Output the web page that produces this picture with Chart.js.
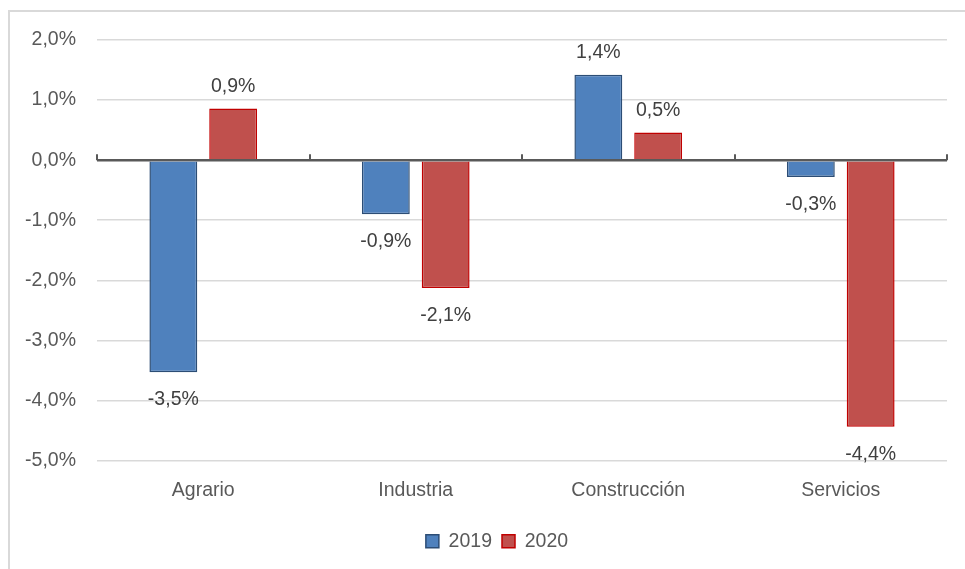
<!DOCTYPE html>
<html>
<head>
<meta charset="utf-8">
<script src="https://cdn.jsdelivr.net/npm/chart.js@4/dist/chart.umd.min.js"></script>
<style>
  html, body { margin: 0; padding: 0; background: #fff; }
  #wrap { position: relative; width: 965px; height: 569px; overflow: hidden; }
  #frame { position: absolute; left: 8px; top: 10px; width: 1000px; height: 700px; border: 2px solid #d9d9d9; box-sizing: border-box; }
  #chart { position: absolute; left: 0; top: 0; }
</style>
</head>
<body>
<div id="wrap">
  <div id="frame"></div>
  <canvas id="chart" width="965" height="569"></canvas>
</div>
<script>
const categories = ["Agrario", "Industria", "Construcción", "Servicios"];
const values2019 = [-3.53, -0.9, 1.42, -0.28];
const values2020 = [0.86, -2.13, 0.46, -4.44];
const seriesNames = ["2019", "2020"];

const FONT = "'Liberation Sans', Arial, sans-serif";

function pct(v) {
    return v.toFixed(1).replace(".", ",") + "%";
}

// data labels above / below each bar
const barLabels = {
    id: "barLabels",
    afterDatasetsDraw(chart) {
        const ctx = chart.ctx;
        ctx.save();
        ctx.font = "19.5px " + FONT;
        ctx.fillStyle = "#404040";
        ctx.textAlign = "center";
        chart.data.datasets.forEach((ds, i) => {
            chart.getDatasetMeta(i).data.forEach((bar, j) => {
                const v = ds.data[j];
                if (v >= 0) {
                    ctx.textBaseline = "bottom";
                    ctx.fillText(pct(v), bar.x, bar.y - 12);
                } else {
                    ctx.textBaseline = "top";
                    ctx.fillText(pct(v), bar.x, bar.y + 18);
                }
            });
        });
        ctx.restore();
    }
};

// zero line tick marks between categories
const zeroTicks = {
    id: "zeroTicks",
    afterDatasetsDraw(chart) {
        const ctx = chart.ctx;
        const x = chart.scales.x;
        const y0 = chart.scales.y.getPixelForValue(0);
        const step = (x.right - x.left) / categories.length;
        ctx.save();
        ctx.strokeStyle = "#595959";
        ctx.lineWidth = 2;
        ctx.beginPath();
        for (let i = 0; i <= categories.length; i++) {
            const px = Math.round(x.left + i * step);
            ctx.moveTo(px, y0 - 6);
            ctx.lineTo(px, y0);
        }
        ctx.stroke();
        ctx.restore();
    }
};

// legend is centred a bit right of the canvas middle in the original
const legendShift = {
    id: "legendShift",
    afterLayout(chart) {
        if (chart.legend) chart.legend.left += 47;
    }
};

new Chart(document.getElementById("chart"), {
    type: "bar",
    data: {
        labels: categories,
        datasets: [{
            label: seriesNames[0],
            data: values2019,
            backgroundColor: "#4f81bd",
            borderColor: "#2c4d75",
            borderWidth: 1.5
        }, {
            label: seriesNames[1],
            data: values2020,
            backgroundColor: "#c0504d",
            borderColor: "#c00000",
            borderWidth: 1.5
        }]
    },
    options: {
        responsive: false,
        animation: false,
        categoryPercentage: 0.563,
        barPercentage: 0.8,
        layout: { padding: { top: 40, right: 18, bottom: 8, left: 0 } },
        scales: {
            x: {
                grid: { display: false, drawTicks: false },
                border: { display: false },
                ticks: { color: "#595959", font: { size: 19.5, family: FONT }, padding: 18 },
                afterFit(scale) { scale.height = 61; }
            },
            y: {
                min: -5,
                max: 2,
                ticks: {
                    stepSize: 1,
                    color: "#595959",
                    font: { size: 19.5, family: FONT },
                    padding: 21,
                    callback: v => pct(v)
                },
                grid: {
                    drawTicks: false,
                    color: c => c.tick && c.tick.value === 0 ? "#595959" : "#d9d9d9",
                    lineWidth: c => c.tick && c.tick.value === 0 ? 2.5 : 1.5
                },
                border: { display: false },
                afterFit(scale) { scale.width = 97; }
            }
        },
        plugins: {
            legend: {
                position: "bottom",
                labels: {
                    color: "#595959",
                    font: { size: 19.5, family: FONT },
                    boxWidth: 13,
                    boxHeight: 13,
                    padding: 10
                }
            },
            tooltip: { enabled: false }
        }
    },
    plugins: [barLabels, zeroTicks, legendShift]
});
</script>
</body>
</html>
